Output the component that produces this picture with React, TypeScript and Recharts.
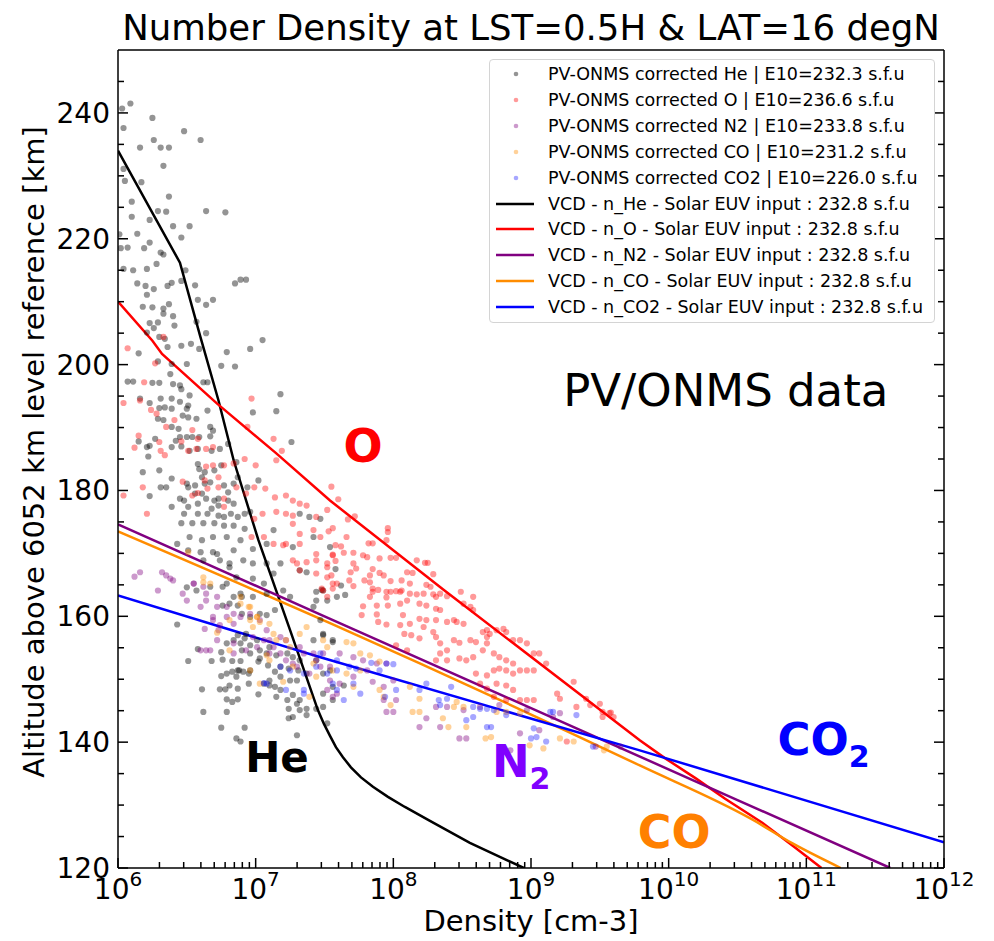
import React from 'react';
import { ComposedChart, Scatter, Line, XAxis, YAxis, Legend, ReferenceDot, Label } from 'recharts';

const FONT = '"DejaVu Sans", sans-serif';

// PV-ONMS samples, [log10 density (cm-3), altitude (km)]
const heObs: [number, number][] = [
  [6.03, 240.7], [6.09, 241.5], [6.04, 237.6], [6.25, 239.2], [6.26, 235.7], [6.48, 237.1], [6.6, 235.7], [6.16, 234.5],
  [6.31, 234.5], [6.37, 234.5], [6.33, 231.6], [6.04, 231.1], [6.05, 229.2], [6.17, 229.0], [6.37, 226.7], [6.1, 225.9],
  [6.29, 224.4], [6.35, 224.3], [6.64, 224.4], [6.78, 224.2], [6.1, 223.5], [6.4, 222.0], [6.52, 222.0], [6.23, 223.0],
  [6.01, 220.7], [6.14, 220.8], [6.46, 220.2], [6.23, 219.4], [6.02, 218.5], [6.07, 218.6], [6.19, 218.5], [6.31, 217.8],
  [6.33, 217.5], [6.04, 215.2], [6.11, 215.0], [6.21, 215.2], [6.28, 216.0], [6.49, 215.0], [6.14, 212.9], [6.2, 212.5],
  [6.26, 212.0], [6.39, 213.0], [6.36, 212.5], [6.46, 213.3], [6.56, 212.6], [6.85, 212.9], [6.89, 213.5], [6.93, 213.5],
  [6.21, 211.1], [6.58, 210.3], [6.69, 210.3], [6.64, 209.5], [6.18, 209.2], [6.25, 209.1], [6.33, 208.9], [6.37, 209.6],
  [6.4, 207.7], [6.23, 206.6], [6.29, 206.7], [6.33, 208.1], [6.41, 206.2], [6.57, 206.8], [6.26, 205.8], [6.21, 205.1],
  [6.3, 204.4], [6.34, 204.1], [6.64, 205.0], [6.59, 202.5], [6.36, 202.8], [6.46, 203.0], [6.53, 203.3], [6.15, 201.8],
  [6.29, 200.5], [6.39, 200.1], [6.5, 200.1], [6.79, 202.0], [6.96, 202.5], [7.05, 203.9], [6.75, 199.8], [6.85, 199.7],
  [6.07, 197.3], [6.11, 197.3], [6.25, 197.1], [6.3, 197.1], [6.38, 198.5], [6.4, 196.9], [6.45, 196.7], [6.46, 196.1],
  [6.62, 197.2], [6.65, 197.2], [6.52, 195.1], [6.31, 194.6], [6.39, 194.6], [6.16, 194.6], [6.23, 193.9], [6.45, 194.1],
  [6.51, 193.5], [6.3, 193.1], [6.34, 193.2], [6.39, 193.0], [6.5, 193.0], [6.65, 192.7], [6.98, 192.4], [6.29, 191.4],
  [6.33, 191.2], [6.47, 191.9], [6.51, 191.6], [6.57, 191.4], [6.39, 190.1], [6.44, 189.8], [6.42, 187.9], [6.45, 188.5],
  [6.5, 188.5], [6.54, 188.5], [6.59, 188.5], [6.67, 188.6], [6.67, 190.1], [6.69, 189.5], [6.15, 187.8], [6.21, 186.9],
  [6.23, 187.1], [6.22, 185.4], [6.27, 188.2], [6.39, 186.9], [6.46, 187.0], [6.52, 186.3], [6.58, 186.6], [6.68, 186.3],
  [6.74, 186.6], [6.8, 187.4], [6.18, 182.9], [6.3, 183.2], [6.39, 181.9], [6.58, 184.2], [6.59, 183.4], [6.63, 182.9],
  [6.61, 182.1], [6.7, 183.2], [6.75, 184.0], [6.86, 184.5], [6.5, 181.1], [6.56, 180.8], [6.51, 180.5], [6.63, 181.1],
  [6.67, 181.3], [6.77, 180.8], [6.84, 181.1], [6.31, 180.5], [6.35, 180.5], [6.23, 179.1], [6.45, 178.7], [6.48, 178.4],
  [6.56, 179.5], [6.61, 179.5], [6.64, 178.7], [6.7, 178.4], [6.73, 178.7], [6.8, 179.7], [6.87, 182.1], [6.94, 180.5],
  [7.02, 181.6], [6.39, 177.4], [6.51, 177.4], [6.58, 177.9], [6.68, 177.1], [6.73, 177.6], [6.8, 178.4], [6.84, 177.9],
  [6.48, 176.3], [6.58, 176.3], [6.65, 176.3], [6.73, 176.0], [6.77, 175.8], [6.82, 176.3], [6.87, 175.8], [6.92, 176.3],
  [6.96, 176.6], [6.46, 174.8], [6.54, 174.8], [6.62, 174.8], [6.7, 174.8], [6.77, 174.4], [6.84, 174.4], [6.92, 173.9],
  [7.18, 195.3], [7.15, 192.6], [7.26, 187.7], [7.32, 176.3], [7.39, 175.8], [7.13, 173.7], [6.52, 172.6], [6.61, 172.1],
  [6.69, 172.6], [6.79, 172.6], [6.89, 172.1], [6.51, 170.5], [6.6, 170.2], [6.69, 170.2], [6.84, 170.5], [6.98, 170.7],
  [7.08, 171.5], [6.62, 168.9], [6.74, 168.9], [6.81, 168.4], [6.98, 168.4], [7.08, 168.4], [7.18, 168.4], [6.98, 166.0],
  [7.06, 165.2], [7.08, 163.6], [7.2, 164.1], [7.25, 163.1], [7.42, 161.5], [7.47, 159.4], [6.89, 163.6], [6.79, 165.2],
  [6.84, 163.1], [6.5, 164.6], [7.27, 171.0], [7.42, 172.6], [6.43, 171.5], [6.72, 169.9], [6.91, 168.9], [6.81, 167.8],
  [6.86, 166.2], [6.76, 164.7], [6.67, 164.7], [6.57, 164.1], [7.32, 167.3], [7.37, 167.0], [7.44, 163.9], [7.49, 164.1],
  [7.13, 166.8],
  [6.9, 163.1], [6.98, 163.1], [7.44, 162.5], [7.52, 162.5], [7.59, 163.1], [7.42, 156.2], [7.49, 157.2], [7.56, 156.2],
  [7.49, 150.9], [7.56, 148.8], [7.56, 146.7], [7.49, 147.7], [7.44, 153.0],
  [6.43, 158.7], [6.58, 154.8], [6.51, 152.9], [6.68, 152.9], [6.76, 153.1], [6.83, 152.9], [6.89, 152.9], [6.75, 154.3],
  [6.79, 155.7], [6.89, 155.7], [6.92, 156.5], [6.96, 155.4], [6.87, 157.0], [6.93, 157.2], [7.01, 156.2], [7.03, 154.6],
  [7.1, 155.1], [7.03, 153.3], [7.02, 152.8], [6.96, 151.4], [6.91, 151.2], [6.87, 151.4], [6.95, 150.9], [6.79, 150.9],
  [6.75, 150.5], [6.83, 151.2], [6.61, 148.4], [6.74, 148.4], [6.78, 148.4], [6.81, 149.0], [6.87, 148.5], [6.88, 151.4],
  [6.86, 150.4], [6.95, 149.3], [7.02, 147.6], [7.06, 149.3], [7.1, 149.0], [7.15, 147.2], [7.18, 148.3], [7.14, 148.8],
  [7.1, 149.8], [7.18, 150.4], [7.25, 149.8], [7.3, 149.8], [7.23, 146.7], [7.27, 147.5], [7.32, 146.7], [7.24, 145.3],
  [7.24, 143.8], [7.27, 144.0], [7.32, 145.1], [7.37, 144.3], [7.3, 146.1], [6.79, 146.8], [6.83, 146.4], [6.87, 146.8],
  [6.62, 144.8], [6.79, 144.8], [6.75, 142.3], [6.92, 142.3], [6.86, 140.6], [6.89, 140.1], [7.3, 141.1], [7.37, 145.3],
  [7.09, 152.2], [7.18, 152.0], [7.14, 151.2], [7.24, 151.7], [7.31, 151.4], [7.37, 150.9], [7.32, 153.0], [7.27, 153.5],
  [7.23, 154.1], [7.15, 153.8], [7.08, 154.1], [6.96, 154.1], [6.9, 154.6], [6.84, 156.2], [7.03, 160.4], [7.08, 160.2],
  [7.14, 161.0], [6.9, 160.4], [6.87, 161.7], [6.76, 161.7], [6.81, 162.0], [6.96, 159.9],
  [7.52, 143.0], [7.44, 145.3],
  [7.47, 175.5], [7.54, 171.0], [7.58, 167.5], [7.62, 164.9], [7.65, 163.4], [7.48, 164.2], [7.49, 157.0], [7.56, 155.9],
  [7.54, 151.4], [7.49, 145.6], [7.64, 149.0],
];

const oObs: [number, number][] = [
  [6.07, 202.6], [6.33, 204.4], [6.27, 200.2], [6.19, 197.2], [6.04, 193.9], [6.24, 192.8], [6.16, 194.3], [6.28, 192.2],
  [6.35, 190.1], [6.41, 191.2], [6.15, 188.7], [6.12, 186.8], [6.3, 187.7], [6.46, 187.8], [6.54, 189.6], [6.31, 186.3],
  [6.34, 185.6], [6.51, 186.3], [6.58, 188.2], [6.57, 186.6], [6.64, 186.6], [6.69, 186.9], [6.64, 183.8], [6.69, 184.0],
  [6.73, 182.1], [6.77, 184.0], [6.84, 184.3], [6.92, 185.0], [7.0, 184.0], [6.97, 194.6], [6.94, 190.1], [6.47, 181.4],
  [6.63, 181.6], [6.65, 180.3], [6.58, 179.6], [6.54, 179.2], [6.77, 178.7], [6.73, 180.5], [6.86, 180.5], [6.93, 179.5],
  [6.99, 180.5], [7.07, 180.3], [6.18, 180.5], [6.21, 176.3], [6.04, 179.2], [6.99, 175.5], [7.05, 176.3], [6.77, 177.4],
  [7.13, 188.2], [7.19, 186.3], [7.15, 184.8], [7.14, 178.9], [7.22, 179.2], [7.27, 178.4], [7.32, 177.9], [7.37, 177.6],
  [7.44, 175.8], [7.15, 176.6], [7.22, 176.3], [7.27, 176.0], [7.27, 174.7], [7.32, 173.1], [7.42, 173.7], [7.47, 172.6],
  [7.32, 171.5], [7.22, 171.5], [7.13, 171.5], [7.06, 172.6], [7.27, 168.9], [7.37, 168.6], [7.44, 168.9], [7.44, 166.8],
  [7.32, 167.3], [6.97, 172.6],
  [7.55, 180.6], [7.6, 178.6], [7.52, 176.9], [7.67, 175.4], [7.72, 175.9], [7.56, 174.0], [7.53, 173.5], [7.66, 172.6],
  [7.96, 174.0], [7.96, 173.4], [7.95, 172.1], [7.82, 171.6], [7.85, 171.6], [7.58, 171.3], [7.62, 171.1], [7.56, 169.8],
  [7.64, 170.1], [7.71, 170.1], [7.78, 169.7], [7.81, 169.4], [7.9, 169.2], [7.98, 169.3], [8.02, 169.3], [8.17, 168.9],
  [8.23, 168.5], [8.25, 168.5], [7.52, 168.4], [7.58, 168.8], [7.71, 168.4], [7.73, 167.6], [7.85, 167.5], [7.9, 166.9],
  [7.93, 166.5], [7.69, 167.0], [7.83, 166.5], [8.1, 167.0], [8.14, 166.9], [8.29, 166.7], [7.52, 166.2], [7.55, 166.5],
  [7.68, 165.7], [7.79, 165.7], [7.83, 165.4], [7.98, 165.6], [8.06, 165.7], [8.12, 165.2], [8.24, 165.0], [8.27, 164.7],
  [7.59, 165.2], [7.71, 164.8], [7.85, 164.4], [7.89, 164.2], [7.95, 163.9], [8.02, 164.0], [8.06, 164.1], [8.12, 163.6],
  [8.17, 163.5], [8.22, 163.6], [8.29, 163.5], [8.34, 163.6], [8.39, 163.2], [8.49, 163.9], [7.49, 164.1], [7.56, 164.4],
  [7.52, 163.1], [7.83, 163.1], [7.95, 163.0],
  [7.85, 163.9], [7.98, 163.9], [8.05, 163.9], [8.31, 163.1], [7.78, 161.6], [7.88, 161.7], [7.96, 161.7], [8.05, 162.0],
  [8.1, 162.5], [8.19, 162.0], [8.24, 161.7], [8.31, 161.2], [8.34, 161.0], [7.77, 160.2], [7.88, 160.3], [8.07, 160.2],
  [8.19, 159.6], [8.24, 159.4], [8.31, 159.4], [8.39, 159.1], [8.44, 159.4], [8.46, 159.1], [8.51, 158.8], [8.56, 161.5],
  [8.58, 161.0], [7.89, 159.1], [7.95, 158.7], [8.05, 158.6], [8.12, 158.8], [8.22, 158.3], [8.29, 157.5], [8.08, 157.2],
  [8.13, 157.0], [8.19, 156.5], [8.31, 156.7], [8.34, 155.7], [8.44, 156.2], [8.48, 155.8], [8.56, 156.2], [8.6, 155.9],
  [8.65, 157.5], [8.68, 157.8], [8.7, 157.2], [8.75, 157.8], [8.8, 158.0], [8.82, 157.5], [8.87, 156.2], [8.92, 156.2],
  [8.97, 155.7], [9.02, 154.1], [9.06, 154.1], [9.11, 152.5], [8.68, 155.7], [8.73, 154.1], [8.77, 153.5], [8.82, 153.0],
  [8.87, 152.5], [8.92, 151.4], [8.97, 151.4], [9.02, 151.4], [8.34, 154.1], [8.39, 154.6], [8.48, 153.3], [8.53, 153.0],
  [8.58, 153.5], [8.6, 150.9], [8.68, 150.6], [8.73, 151.4], [8.77, 151.7], [8.82, 151.4], [8.87, 150.9], [8.63, 149.3],
  [8.68, 148.5], [8.75, 149.3], [8.82, 149.0], [8.87, 148.3], [8.73, 147.2], [8.82, 146.7], [8.92, 146.7], [8.97, 146.7],
  [9.02, 146.7], [8.31, 153.0], [8.39, 153.0], [8.1, 154.6], [8.02, 155.4], [8.65, 154.6], [8.68, 156.7], [9.19, 147.7],
  [9.21, 146.9], [9.31, 149.6], [9.4, 146.9], [9.43, 145.9], [9.5, 146.1], [9.52, 144.0], [9.57, 144.6], [9.6, 144.0],
  [9.33, 145.6], [9.26, 140.1], [8.58, 163.1], [8.51, 162.0],
  [7.2, 171.3], [7.3, 168.4], [7.44, 169.9], [7.56, 169.7], [7.52, 167.8], [7.56, 165.2], [7.48, 164.4],
  [9.52, 144.8], [9.58, 144.7],
];

const n2Obs: [number, number][] = [
  [6.12, 166.3], [6.16, 167.0],
  [6.32, 167.0], [6.35, 166.5], [6.38, 166.0], [6.29, 164.1], [6.55, 165.2], [6.64, 163.6], [6.72, 163.1], [6.79, 161.5],
  [6.84, 160.4], [6.89, 159.9], [6.6, 161.5], [6.69, 159.9], [6.5, 162.5],
  [6.6, 154.6], [6.67, 154.6], [6.72, 156.2], [6.84, 155.7], [6.98, 156.7], [7.06, 156.2], [7.13, 155.1], [7.22, 156.2],
  [7.32, 155.1], [7.42, 154.1], [7.47, 152.0], [7.18, 154.1], [7.27, 152.5],
  [6.4, 165.7], [6.47, 163.6], [6.55, 165.2], [6.62, 164.7], [6.64, 162.5], [6.72, 161.5], [6.79, 159.9], [6.69, 159.4],
  [6.74, 158.6], [6.84, 158.8], [6.63, 158.0], [6.73, 157.8], [6.96, 160.4], [7.03, 159.4], [7.08, 157.8], [7.1, 156.2],
  [7.18, 156.7], [7.1, 154.1], [7.22, 153.0], [7.3, 152.0], [7.39, 150.9], [7.44, 153.0], [7.49, 154.1], [7.54, 152.0],
  [7.35, 154.1], [7.01, 155.1], [6.93, 154.6], [6.84, 154.1], [6.64, 154.6], [7.54, 149.8], [7.59, 147.7],
  [7.61, 154.1], [7.71, 153.5], [7.78, 153.0], [7.88, 152.5], [7.95, 152.5], [7.81, 151.4], [7.71, 150.4], [7.61, 149.3],
  [7.56, 147.2], [7.52, 148.3], [7.85, 149.6], [7.93, 148.8], [8.0, 149.8], [7.93, 146.7], [8.02, 146.7], [7.95, 144.8],
  [8.0, 144.8], [8.19, 142.4], [8.24, 143.8], [8.34, 142.4], [8.31, 145.6], [8.39, 145.6], [8.48, 140.6], [8.53, 140.6],
  [8.51, 145.1], [8.63, 145.6], [8.77, 145.9], [8.85, 138.7], [8.92, 141.4], [8.97, 145.1], [9.06, 141.9], [9.16, 144.0],
  [9.21, 144.6], [9.47, 139.3], [9.65, 139.3],
];

const coObs: [number, number][] = [
  [6.51, 170.2], [6.62, 165.4], [6.89, 163.1], [6.95, 161.5], [7.01, 159.9], [6.81, 159.4],
  [6.72, 157.4], [6.81, 154.6], [6.98, 158.3], [7.08, 153.8], [7.32, 157.2], [7.39, 147.2], [7.2, 149.6], [7.27, 152.0],
  [6.62, 166.2], [6.67, 165.2], [6.89, 162.0], [6.96, 161.5], [7.01, 159.9], [6.96, 159.4], [7.03, 159.1], [7.1, 158.8],
  [7.13, 157.2], [7.22, 156.2], [7.25, 155.1], [7.1, 153.0], [6.96, 151.4], [7.03, 149.3], [7.42, 152.5], [7.49, 156.2],
  [7.44, 150.4], [7.37, 158.3], [7.52, 155.1], [7.15, 156.2],
  [7.66, 155.9], [7.71, 155.7], [7.76, 154.1], [7.83, 153.8], [7.9, 152.8], [7.76, 151.4], [7.66, 150.9], [7.56, 151.4],
  [7.71, 148.8], [7.9, 148.3], [7.93, 147.2], [7.98, 145.9], [8.12, 148.8], [8.19, 146.9], [8.14, 144.8], [8.19, 144.8],
  [8.36, 143.8], [8.4, 142.4], [8.44, 145.6], [8.46, 146.4], [8.53, 142.4], [8.51, 145.6], [8.67, 140.6], [8.71, 140.8],
  [8.75, 144.8], [8.82, 144.8], [8.92, 144.6], [8.99, 139.5], [9.09, 139.0], [9.21, 140.6], [9.31, 140.1], [9.55, 139.3],
  [9.53, 138.7],
];

const co2Obs: [number, number][] = [
  [7.06, 149.4], [7.18, 152.0], [7.35, 148.3],
  [7.25, 151.4], [7.35, 150.9], [7.52, 150.9], [7.59, 151.4], [7.08, 149.3], [7.22, 148.3], [7.35, 147.7], [7.56, 149.3],
  [7.44, 152.0],
  [7.47, 154.1], [7.59, 153.0], [7.68, 152.0], [7.73, 151.7], [7.84, 152.6], [7.95, 152.5], [8.0, 152.4], [7.9, 151.4],
  [7.71, 149.3], [7.59, 148.3], [7.64, 146.7], [7.76, 147.7], [7.94, 147.2], [8.02, 148.3], [8.24, 149.3], [8.19, 148.3],
  [8.33, 146.7], [8.34, 145.9], [8.42, 148.8], [8.39, 146.9], [8.53, 143.5], [8.58, 145.6], [8.63, 145.3], [8.68, 145.3],
  [8.73, 145.1], [8.68, 142.4], [8.71, 142.4], [8.82, 144.3], [9.02, 142.2], [9.04, 140.8], [9.0, 140.6], [9.11, 140.1],
  [9.14, 144.8], [9.16, 144.8], [9.33, 144.3], [9.45, 139.3], [8.58, 144.0],
];

// VCD model profiles, [log10 density, altitude]
const heModel: [number, number][] = [
  [6.0, 234.0], [6.45, 216.2], [6.6, 204.3], [6.73, 194.3], [6.84, 184.8], [7.02, 172.1], [7.25, 157.8], [7.452, 145.1],
  [7.496, 142.9], [7.54, 141.0], [7.583, 139.2], [7.634, 137.6], [7.692, 136.0], [7.765, 134.4], [7.852, 132.9],
  [7.961, 131.3], [8.084, 129.7], [8.266, 127.5], [8.556, 124.0], [8.948, 120.0],
];
const oModel: [number, number][] = [
  [6.0, 210.0], [6.25, 203.8], [6.32, 201.7], [6.72, 193.8], [7.15, 185.9], [7.54, 178.4], [8.36, 164.3], [9.79, 140.3],
  [9.97, 137.5], [10.2, 134.2], [10.41, 131.0], [10.68, 127.2], [10.92, 123.2], [11.11, 120.0],
];
const n2Model: [number, number][] = [[6.0, 174.6], [7.5, 160.0], [9.0, 145.4], [10.5, 130.8], [11.61, 120.0]];
const coModel: [number, number][] = [
  [6.0, 173.5], [7.54, 158.9], [9.79, 136.3], [10.6, 127.8], [10.9, 123.9], [11.25, 120.0],
];
const co2Model: [number, number][] = [[6.0, 163.3], [7.47, 153.5], [9.79, 138.7], [12.0, 124.1]];

const xDecades = [6, 7, 8, 9, 10, 11, 12];
const xMinorSteps = [2, 3, 4, 5, 6, 7, 8, 9];
const yMajorTicks = [120, 140, 160, 180, 200, 220, 240];
const yTicks = [120, 125, 130, 135, 140, 145, 150, 155, 160, 165, 170, 175, 180, 185, 190, 195, 200, 205, 210, 215, 220, 225, 230, 235, 240, 245];

const toPoints = (rows: [number, number][]) => rows.map(([l, alt]) => ({ x: Math.pow(10, l), y: alt }));

const xTicks: number[] = [];
xDecades.forEach((d, i) => {
  xTicks.push(Math.pow(10, d));
  if (i < xDecades.length - 1) xMinorSteps.forEach((m) => xTicks.push(m * Math.pow(10, d)));
});

const observed = [
  { key: 'He', rows: heObs, color: '#000000', opacity: 0.42, label: 'PV-ONMS corrected He | E10=232.3 s.f.u' },
  { key: 'O', rows: oObs, color: '#ff0000', opacity: 0.4, label: 'PV-ONMS corrected O | E10=236.6 s.f.u' },
  { key: 'N2', rows: n2Obs, color: '#800080', opacity: 0.4, label: 'PV-ONMS corrected N2 | E10=233.8 s.f.u' },
  { key: 'CO', rows: coObs, color: '#ff8c00', opacity: 0.4, label: 'PV-ONMS corrected CO | E10=231.2 s.f.u' },
  { key: 'CO2', rows: co2Obs, color: '#0000ff', opacity: 0.35, label: 'PV-ONMS corrected CO2 | E10=226.0 s.f.u' },
];

const models = [
  { key: 'He', rows: heModel, color: '#000000', curve: 'linear', label: 'VCD - n_He - Solar EUV input : 232.8 s.f.u' },
  { key: 'O', rows: oModel, color: '#ff0000', curve: 'linear', label: 'VCD - n_O - Solar EUV input : 232.8 s.f.u' },
  { key: 'N2', rows: n2Model, color: '#800080', curve: 'linear', label: 'VCD - n_N2 - Solar EUV input : 232.8 s.f.u' },
  { key: 'CO', rows: coModel, color: '#ff8c00', curve: 'monotone', label: 'VCD - n_CO - Solar EUV input : 232.8 s.f.u' },
  { key: 'CO2', rows: co2Model, color: '#0000ff', curve: 'linear', label: 'VCD - n_CO2 - Solar EUV input : 232.8 s.f.u' },
];

// in-plot annotations: [log10 density, altitude] of the text baseline
const annotations = [
  { text: 'PV/ONMS data', sub: '', at: [10.415, 193.5], color: '#000000', bold: false, size: 45, anchor: 'middle' },
  { text: 'O', sub: '', at: [7.78, 184.6], color: '#ff0000', bold: true, size: 46, anchor: 'middle' },
  { text: 'He', sub: '', at: [7.155, 135.2], color: '#000000', bold: true, size: 42, anchor: 'middle' },
  { text: 'N', sub: '2', at: [8.716, 134.4], color: '#8000ff', bold: true, size: 45, anchor: 'start' },
  { text: 'CO', sub: '', at: [10.04, 123.2], color: '#ff8000', bold: true, size: 46, anchor: 'middle' },
  { text: 'CO', sub: '2', at: [10.79, 137.9], color: '#0000ff', bold: true, size: 45, anchor: 'start' },
];

const isDecade = (v: number) => Math.abs(Math.log10(v) - Math.round(Math.log10(v))) < 1e-6;

const BottomTick = (props: any) => {
  const { x, y, payload } = props;
  const major = isDecade(payload.value);
  return (
    <g>
      <line x1={x} x2={x} y1={y} y2={y - (major ? 10 : 6)} stroke="#000" strokeWidth={1.5} />
      {major && (
        <text x={x} y={y + 31} textAnchor="middle" fontSize={28} fontFamily={FONT} fill="#000">
          10<tspan dy={-13} fontSize={20}>{Math.round(Math.log10(payload.value))}</tspan>
        </text>
      )}
    </g>
  );
};

const TopTick = (props: any) => {
  const { x, y, payload } = props;
  const major = isDecade(payload.value);
  return <line x1={x} x2={x} y1={y} y2={y + (major ? 10 : 6)} stroke="#000" strokeWidth={1.5} />;
};

const LeftTick = (props: any) => {
  const { x, y, payload } = props;
  const major = yMajorTicks.includes(payload.value);
  return (
    <g>
      <line x1={x} x2={x + (major ? 10 : 6)} y1={y} y2={y} stroke="#000" strokeWidth={1.5} />
      {major && (
        <text x={x - 8} y={y + 10} textAnchor="end" fontSize={28} fontFamily={FONT} fill="#000">
          {payload.value}
        </text>
      )}
    </g>
  );
};

const RightTick = (props: any) => {
  const { x, y, payload } = props;
  const major = yMajorTicks.includes(payload.value);
  return <line x1={x} x2={x - (major ? 10 : 6)} y1={y} y2={y} stroke="#000" strokeWidth={1.5} />;
};

const renderLegend = () => (
  <div
    style={{
      width: 446,
      height: 264,
      boxSizing: 'border-box',
      border: '1px solid #d4d4d4',
      borderRadius: 4,
      background: 'rgba(255,255,255,0.85)',
      position: 'relative',
      fontFamily: FONT,
      fontSize: 17.5,
      color: '#000',
    }}
  >
    {[...observed.map((s) => ({ ...s, kind: 'dot' })), ...models.map((s) => ({ ...s, kind: 'line', opacity: 1 }))].map(
      (s, i) => (
        <div
          key={s.kind + s.key}
          style={{ position: 'absolute', left: 0, top: 14 + i * 25.9 - 13, height: 26, display: 'flex', alignItems: 'center', whiteSpace: 'nowrap' }}
        >
          <svg width={56} height={26} style={{ display: 'block' }}>
            {s.kind === 'dot' ? (
              <circle cx={26} cy={13} r={2.3} fill={s.color} fillOpacity={s.opacity} />
            ) : (
              <line x1={6} x2={44} y1={13} y2={13} stroke={s.color} strokeWidth={2.5} />
            )}
          </svg>
          <span style={{ marginLeft: 2 }}>{s.label}</span>
        </div>
      ),
    )}
  </div>
);

const dotShape = (color: string, opacity: number) => (p: any) =>
  <circle cx={p.cx} cy={p.cy} r={3.1} fill={color} fillOpacity={opacity} />;

export default function App() {
  return (
    <div style={{ position: 'absolute', left: 0, top: 0, width: 994, height: 941, background: '#fff' }}>
      <ComposedChart width={994} height={941} margin={{ top: 40, right: 40, bottom: 33, left: 58 }}>
        <XAxis
          xAxisId="bottom"
          dataKey="x"
          type="number"
          scale="log"
          domain={[1e6, 1e12]}
          allowDataOverflow
          ticks={xTicks}
          interval={0}
          height={40}
          tickSize={0}
          tickMargin={0}
          tickLine={false}
          tick={<BottomTick />}
          axisLine={{ stroke: '#000', strokeWidth: 1.5 }}
        >
          <Label
            content={() => (
              <text x={531} y={931} textAnchor="middle" fontSize={29} fontFamily={FONT} fill="#000">
                Density [cm-3]
              </text>
            )}
          />
        </XAxis>
        <XAxis
          xAxisId="top"
          orientation="top"
          type="number"
          scale="log"
          domain={[1e6, 1e12]}
          allowDataOverflow
          ticks={xTicks}
          interval={0}
          height={10}
          tickSize={0}
          tickMargin={0}
          tickLine={false}
          tick={<TopTick />}
          axisLine={{ stroke: '#000', strokeWidth: 1.5 }}
        >
          <Label
            content={() => (
              <text x={531} y={40} textAnchor="middle" fontSize={35.5} fontFamily={FONT} fill="#000">
                Number Density at LST=0.5H &amp; LAT=16 degN
              </text>
            )}
          />
        </XAxis>
        <YAxis
          yAxisId="left"
          dataKey="y"
          type="number"
          domain={[120, 250]}
          allowDataOverflow
          ticks={yTicks}
          interval={0}
          width={60}
          tickSize={0}
          tickMargin={0}
          tickLine={false}
          tick={<LeftTick />}
          axisLine={{ stroke: '#000', strokeWidth: 1.5 }}
        >
          <Label
            content={() => (
              <text
                x={44}
                y={452}
                transform="rotate(-90 44 452)"
                textAnchor="middle"
                fontSize={29}
                fontFamily={FONT}
                fill="#000"
              >
                Altitude above 6052 km level reference [km]
              </text>
            )}
          />
        </YAxis>
        <YAxis
          yAxisId="right"
          orientation="right"
          type="number"
          domain={[120, 250]}
          allowDataOverflow
          ticks={yTicks}
          interval={0}
          width={10}
          tickSize={0}
          tickMargin={0}
          tickLine={false}
          tick={<RightTick />}
          axisLine={{ stroke: '#000', strokeWidth: 1.5 }}
        />

        {observed.map((s) => (
          <Scatter
            key={'obs-' + s.key}
            xAxisId="bottom"
            yAxisId="left"
            data={toPoints(s.rows)}
            dataKey="y"
            shape={dotShape(s.color, s.opacity)}
            isAnimationActive={false}
          />
        ))}
        {models.map((s) => (
          <Line
            key={'vcd-' + s.key}
            xAxisId="bottom"
            yAxisId="left"
            data={toPoints(s.rows)}
            dataKey="y"
            type={s.curve as any}
            stroke={s.color}
            strokeWidth={2.5}
            dot={false}
            activeDot={false}
            isAnimationActive={false}
          />
        ))}

        {annotations.map((a, i) => (
          <ReferenceDot
            key={'ann-' + i}
            xAxisId="bottom"
            yAxisId="left"
            x={Math.pow(10, a.at[0])}
            y={a.at[1]}
            shape={(p: any) => (
              <text
                x={p.cx}
                y={p.cy}
                textAnchor={a.anchor as any}
                fontSize={a.size}
                fontWeight={a.bold ? 'bold' : 'normal'}
                fontFamily={FONT}
                fill={a.color}
              >
                {a.text}
                {a.sub && (
                  <tspan dy={12} fontSize={30}>
                    {a.sub}
                  </tspan>
                )}
              </text>
            )}
          />
        ))}

        <Legend
          layout="vertical"
          align="center"
          verticalAlign="middle"
          width={446}
          height={264}
          wrapperStyle={{ left: 489, top: 59, width: 446, height: 264 }}
          content={renderLegend}
        />
      </ComposedChart>
    </div>
  );
}
